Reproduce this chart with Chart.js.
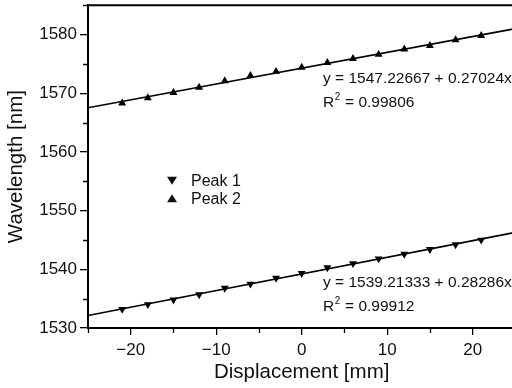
<!DOCTYPE html>
<html>
<head>
<meta charset="utf-8">
<script src="https://cdn.jsdelivr.net/npm/chart.js@4.4.1/dist/chart.umd.min.js"></script>
<style>
  html, body { margin: 0; padding: 0; background: #fff; overflow: hidden; }
  #wrap { width: 520px; height: 396px; margin-top: -8px; }
</style>
</head>
<body>
<div id="wrap"><canvas id="chart"></canvas></div>
<script>
// data
const displacement = [-21, -18, -15, -12, -9, -6, -3, 0, 3, 6, 9, 12, 15, 18, 21];
const peak1 = [1533.2, 1534.0, 1534.8, 1535.7, 1536.8, 1537.5, 1538.5, 1539.3, 1540.3, 1541.0, 1541.8, 1542.6, 1543.4, 1544.2, 1545.0];
const peak2 = [1568.3, 1569.2, 1570.1, 1571.0, 1572.1, 1573.0, 1573.7, 1574.4, 1575.2, 1575.9, 1576.6, 1577.5, 1578.1, 1579.1, 1579.8];
const seriesNames = ["Peak 1", "Peak 2"];
const fitLabels1 = ["y = 1539.21333 + 0.28286x", "0.99912"];
const fitLabels2 = ["y = 1547.22667 + 0.27024x", "0.99806"];
const xRange = [-25, 25];
const yRange = [1530, 1585];
const xTickValues = [-20, -10, 0, 10, 20];
const yTickValues = [1530, 1540, 1550, 1560, 1570, 1580];

const FONT = "'Liberation Sans', Arial, sans-serif";

// least squares line through the read points
function linFit(xs, ys) {
    const n = xs.length;
    const mx = xs.reduce((a, b) => a + b, 0) / n;
    const my = ys.reduce((a, b) => a + b, 0) / n;
    let sxy = 0, sxx = 0;
    xs.forEach((x, i) => { sxy += (x - mx) * (ys[i] - my); sxx += (x - mx) * (x - mx); });
    const m = sxy / sxx;
    const b = my - m * mx;
    return xRange.map(x => ({ x: x, y: b + m * x }));
}

const pts = ys => displacement.map((x, i) => ({ x: x, y: ys[i] }));

const minus = v => String(v).replace('-', '\u2212');

// minor ticks halfway between the major ones
function minorValues(scale) {
    const out = [];
    const vals = scale.ticks.map(t => t.value);
    const half = (vals[1] - vals[0]) / 2;
    if (vals[0] - half >= scale.min) out.push(vals[0] - half);
    vals.forEach(v => { if (v + half <= scale.max) out.push(v + half); });
    return out;
}

// frame on top, minor ticks, legend and fit labels
const extras = {
    id: 'extras',
    afterDraw(chart) {
        const ctx = chart.ctx;
        const a = chart.chartArea;
        const xs = chart.scales.x, ys = chart.scales.y;
        ctx.save();
        ctx.strokeStyle = '#000';
        ctx.lineWidth = 2;
        ctx.beginPath();
        ctx.moveTo(a.left - 1, a.top);
        ctx.lineTo(a.right, a.top);
        ctx.lineTo(a.right, a.bottom);
        ctx.stroke();

        ctx.lineWidth = 1.3;
        ctx.beginPath();
        minorValues(xs).forEach(v => {
            const px = Math.round(xs.getPixelForValue(v)) + 0.5;
            ctx.moveTo(px, a.bottom);
            ctx.lineTo(px, a.bottom + 5);
        });
        minorValues(ys).forEach(v => {
            const py = Math.round(ys.getPixelForValue(v)) + 0.5;
            ctx.moveTo(a.left, py);
            ctx.lineTo(a.left - 5, py);
        });
        ctx.stroke();

        ctx.fillStyle = '#111';
        ctx.textBaseline = 'middle';
        ctx.textAlign = 'left';

        // legend
        const lx = a.left + 84, ly = a.top + 175;
        ctx.font = '16px ' + FONT;
        seriesNames.forEach((name, i) => {
            const cy = ly + i * 18.6;
            const r = 5;
            ctx.beginPath();
            if (i === 0) {
                ctx.moveTo(lx - r, cy - r * 0.7);
                ctx.lineTo(lx + r, cy - r * 0.7);
                ctx.lineTo(lx, cy + r * 0.9);
            } else {
                ctx.moveTo(lx - r, cy + r * 0.7);
                ctx.lineTo(lx + r, cy + r * 0.7);
                ctx.lineTo(lx, cy - r * 0.9);
            }
            ctx.closePath();
            ctx.fill();
            ctx.fillText(name, lx + 19, cy + 1);
        });

        // fit equations
        const drawFit = (lab, x, y) => {
            ctx.font = '15.5px ' + FONT;
            ctx.fillText(lab[0], x, y);
            ctx.fillText('R', x, y + 24);
            const w = ctx.measureText('R').width;
            ctx.font = '10px ' + FONT;
            ctx.fillText('2', x + w + 0.5, y + 18);
            const w2 = ctx.measureText('2').width;
            ctx.font = '15.5px ' + FONT;
            ctx.fillText(' = ' + lab[1], x + w + w2 + 1, y + 24);
        };
        drawFit(fitLabels2, a.left + 235, a.top + 74);
        drawFit(fitLabels1, a.left + 235, a.top + 278);
        ctx.restore();
    }
};

new Chart(document.getElementById('chart'), {
    type: 'scatter',
    data: {
        datasets: [
            {
                label: seriesNames[0], data: pts(peak1),
                pointStyle: 'triangle', pointRotation: 180, pointRadius: 4.6,
                backgroundColor: '#000', borderColor: '#000', borderWidth: 0, order: 1
            },
            {
                label: seriesNames[1], data: pts(peak2),
                pointStyle: 'triangle', pointRadius: 4.6,
                backgroundColor: '#000', borderColor: '#000', borderWidth: 0, order: 1
            },
            {
                label: 'fit1', data: linFit(displacement, peak1), showLine: true,
                pointRadius: 0, borderColor: '#000', borderWidth: 1.6, order: 2
            },
            {
                label: 'fit2', data: linFit(displacement, peak2), showLine: true,
                pointRadius: 0, borderColor: '#000', borderWidth: 1.6, order: 2
            }
        ]
    },
    options: {
        responsive: true,
        maintainAspectRatio: false,
        animation: false,
        layout: { padding: { top: 0, right: 4, left: 0, bottom: 0 } },
        plugins: { legend: { display: false }, tooltip: { enabled: false } },
        scales: {
            x: {
                type: 'linear', min: xRange[0], max: xRange[1],
                afterBuildTicks: s => { s.ticks = xTickValues.map(v => ({ value: v })); },
                afterFit: s => { s.height = 60; },
                grid: { drawOnChartArea: false, drawTicks: true, tickLength: 7, color: '#000', lineWidth: 1.3 },
                border: { display: true, color: '#000', width: 2 },
                ticks: {
                    autoSkip: false, maxRotation: 0, padding: 5,
                    color: '#111', font: { family: FONT, size: 17 },
                    callback: v => minus(v)
                },
                title: {
                    display: true, text: 'Displacement [mm]', color: '#111',
                    font: { family: FONT, size: 20.5 }, padding: { top: 0, bottom: 3 }
                }
            },
            y: {
                type: 'linear', min: yRange[0], max: yRange[1],
                afterBuildTicks: s => { s.ticks = yTickValues.map(v => ({ value: v })); },
                afterFit: s => { s.width = 88; },
                grid: { drawOnChartArea: false, drawTicks: true, tickLength: 8, color: '#000', lineWidth: 1.3 },
                border: { display: true, color: '#000', width: 2 },
                ticks: {
                    autoSkip: false, padding: 3,
                    color: '#111', font: { family: FONT, size: 17 },
                    callback: v => String(v)
                },
                title: {
                    display: true, text: 'Wavelength [nm]', color: '#111',
                    font: { family: FONT, size: 20.5 }, padding: { top: 4, bottom: 0 }
                }
            }
        }
    },
    plugins: [extras]
});
</script>
</body>
</html>
